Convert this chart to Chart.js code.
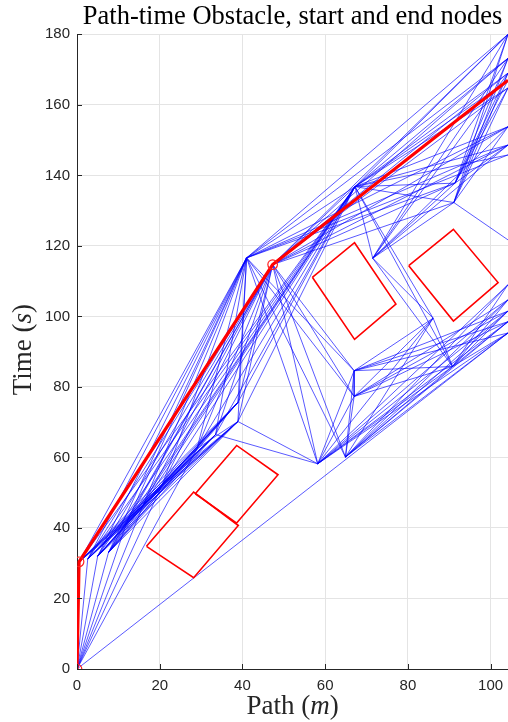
<!DOCTYPE html>
<html>
<head>
<meta charset="utf-8">
<title>Path-time Obstacle, start and end nodes</title>
<script src="https://cdn.jsdelivr.net/npm/chart.js@4.4.1/dist/chart.umd.min.js"></script>
<style>
  html, body { margin: 0; padding: 0; background: #ffffff; }
  canvas { display: block; }
</style>
</head>
<body>
<canvas id="chart" width="508" height="722"></canvas>
<script>
// Roadmap nodes in path-time space: s = path (m), t = time (s)
const nodeS = [0, 0.5, 2.6, 5.0, 7.6, 12.0, 20.5, 29.0, 38.9, 38.9,
               41.0, 47.3, 58.2, 64.9, 67.0, 67.0, 71.5, 67.2, 86.1, 90.8,
               91.1, 91.4, 104.2, 104.2, 104.2, 104.2, 104.2, 104.2, 104.2, 104.2,
               104.2, 104.2, 104.2, 104.2, 104.2, 104.2, 16.0, 33.5];
const nodeT = [0, 30.4, 31.2, 32.0, 33.0, 41.5, 52.0, 62.5, 70.2, 75.6,
               116.6, 114.7, 58.2, 60.1, 84.6, 77.3, 116.5, 136.8, 99.5, 85.8,
               132.3, 137.8, 180.0, 173.2, 169.0, 167.0, 164.8, 153.8, 148.6, 145.8,
               121.7, 109.0, 104.7, 101.5, 98.5, 95.3, 46.5, 66.5];

// Graph edges (pairs of node indices)
const edges = [
  [0,1],[0,2],[0,3],[0,4],[0,5],[0,6],[0,7],[0,36],[0,35],
  [1,5],[1,6],[1,7],[1,8],[1,9],[1,10],[1,11],[1,17],[1,36],[1,37],
  [2,5],[2,6],[2,7],[2,8],[2,9],[2,10],[2,11],[2,17],[2,36],[2,37],
  [3,5],[3,6],[3,7],[3,8],[3,9],[3,10],[3,11],[3,17],[3,36],[3,37],
  [4,5],[4,6],[4,7],[4,8],[4,9],[4,10],[4,11],[4,17],[4,36],[4,37],
  [5,8],[5,9],[5,10],[5,11],[5,17],[5,37],
  [6,8],[6,9],[6,10],[6,11],[6,17],[6,37],
  [7,8],[7,9],[7,10],[7,11],[7,17],
  [36,8],[36,9],[36,10],[36,11],[36,17],[36,37],
  [37,10],[37,11],[37,17],[37,12],
  [8,10],[8,11],[8,12],[8,17],[9,10],[9,11],[9,17],
  [10,12],[10,13],[10,14],[10,15],[10,17],[10,21],[10,22],[10,23],[10,27],[10,28],[10,29],
  [11,12],[11,13],[11,14],[11,15],[11,17],[11,20],[11,21],[11,22],[11,23],[11,24],[11,25],[11,26],[11,27],[11,28],
  [17,16],[17,18],[17,19],[17,20],[17,21],[17,22],[17,23],[17,24],[17,25],[17,26],[17,27],[17,28],[17,29],
  [16,18],[16,19],[16,20],[16,21],[16,22],[16,23],[16,24],[16,27],[16,28],
  [20,22],[20,23],[20,24],[20,26],[20,27],[20,30],[21,22],[21,23],[21,24],[21,25],[21,26],[21,28],
  [12,14],[12,15],[12,18],[12,19],[12,31],[12,32],[12,33],[12,34],[12,35],
  [13,14],[13,15],[13,18],[13,19],[13,31],[13,32],[13,33],[13,34],[13,35],
  [14,15],[14,18],[14,19],[15,18],[15,19],
  [19,31],[19,32],[19,33],[19,34],[19,35],[18,19],[14,33],[14,34],[15,32],[15,33],[15,34],[14,35]
];

// Chosen path through the roadmap
const pathNodes = [0, 1, 11, 25];

// Obstacle corners (left, top, right, bottom)
const obstacleS = [
  [16.8, 28.2, 39.0, 28.2],
  [28.6, 38.6, 48.6, 38.6],
  [56.9, 67.1, 77.1, 67.1],
  [80.2, 91.0, 101.8, 91.0]
];
const obstacleT = [
  [34.8, 50.2, 40.7, 25.9],
  [49.7, 63.4, 55.1, 41.4],
  [111.1, 120.9, 103.5, 93.5],
  [114.4, 124.7, 109.6, 98.7]
];

const xTicks = [0, 20, 40, 60, 80, 100];
const yTicks = [0, 20, 40, 60, 80, 100, 120, 140, 160, 180];
const xMax = 104.2;
const yMax = 180;

const pt = i => ({ x: nodeS[i], y: nodeT[i] });

const datasets = [];

// path on top
datasets.push({
  data: pathNodes.map(pt),
  showLine: true,
  borderColor: '#ff0000',
  borderWidth: 3.2,
  pointRadius: pathNodes.map((_, k) => (k < pathNodes.length - 1 ? 4.8 : 0)),
  pointBackgroundColor: 'rgba(0,0,0,0)',
  pointBorderColor: '#ff2020',
  pointBorderWidth: 1.2
});

obstacleS.forEach((ss, k) => {
  const tt = obstacleT[k];
  const poly = ss.map((s, j) => ({ x: s, y: tt[j] }));
  poly.push(poly[0]);
  datasets.push({
    data: poly,
    showLine: true,
    borderColor: '#ff0000',
    borderWidth: 1.6,
    pointRadius: 0
  });
});

edges.forEach(([a, b]) => {
  datasets.push({
    data: [pt(a), pt(b)],
    showLine: true,
    borderColor: 'rgba(0,0,255,0.65)',
    borderWidth: 1,
    pointRadius: 0
  });
});

// Axis titles with italic unit symbols, plus inward tick marks
function drawParts(ctx, parts, cx, baseline, size) {
  const fonts = parts.map(p => (p.italic ? 'italic ' : '') + size + 'px "Liberation Serif"');
  let total = 0;
  const widths = parts.map((p, i) => { ctx.font = fonts[i]; const w = ctx.measureText(p.text).width; total += w; return w; });
  let x = cx - total / 2;
  ctx.textAlign = 'left';
  ctx.textBaseline = 'alphabetic';
  parts.forEach((p, i) => { ctx.font = fonts[i]; ctx.fillText(p.text, x, baseline); x += widths[i]; });
}

const axesDecor = {
  id: 'axesDecor',
  afterDraw(chart) {
    const { ctx, chartArea, scales } = chart;
    const { left, right, top, bottom } = chartArea;
    ctx.save();
    ctx.strokeStyle = '#262626';
    ctx.lineWidth = 1;
    ctx.beginPath();
    xTicks.forEach(v => {
      const px = Math.round(scales.x.getPixelForValue(v)) + 0.5;
      ctx.moveTo(px, bottom); ctx.lineTo(px, bottom - 5);
    });
    yTicks.forEach(v => {
      const py = Math.round(scales.y.getPixelForValue(v)) + 0.5;
      ctx.moveTo(left, py); ctx.lineTo(left + 5, py);
    });
    ctx.stroke();

    ctx.fillStyle = '#262626';
    drawParts(ctx, [{ text: 'Path (' }, { text: 'm', italic: true }, { text: ')' }],
      (left + right) / 2, 714, 27);
    ctx.translate(31, (top + bottom) / 2 - 2);
    ctx.rotate(-Math.PI / 2);
    drawParts(ctx, [{ text: 'Time (' }, { text: 's', italic: true }, { text: ')' }],
      0, 0, 27);
    ctx.restore();
  }
};

new Chart(document.getElementById('chart'), {
  type: 'scatter',
  data: { datasets },
  plugins: [axesDecor],
  options: {
    responsive: false,
    animation: false,
    devicePixelRatio: 1,
    events: [],
    layout: { autoPadding: false, padding: { top: 0, right: 0, bottom: 0, left: 0 } },
    plugins: {
      legend: { display: false },
      tooltip: { enabled: false },
      title: {
        display: true,
        text: 'Path-time Obstacle, start and end nodes',
        fullSize: false,
        color: '#000000',
        font: { family: '"Liberation Serif"', size: 26.5, weight: 'normal', lineHeight: 1.1 },
        padding: { top: 2, bottom: 3.2 }
      }
    },
    scales: {
      x: {
        type: 'linear',
        min: 0,
        max: xMax,
        afterBuildTicks: s => { s.ticks = xTicks.map(v => ({ value: v })); },
        afterFit: s => { s.height = 53; s.paddingLeft = 0; s.paddingRight = 0; },
        grid: { color: '#e4e4e4', drawTicks: false, lineWidth: 1 },
        border: { display: true, color: '#262626', width: 1 },
        ticks: {
          color: '#262626',
          font: { family: '"Liberation Sans"', size: 15 },
          padding: 8,
          maxRotation: 0
        }
      },
      y: {
        type: 'linear',
        min: 0,
        max: yMax,
        afterBuildTicks: s => { s.ticks = yTicks.map(v => ({ value: v })); },
        afterFit: s => { s.width = 77; s.paddingTop = 0; s.paddingBottom = 0; },
        grid: { color: '#e4e4e4', drawTicks: false, lineWidth: 1 },
        border: { display: true, color: '#262626', width: 1 },
        ticks: {
          color: '#262626',
          font: { family: '"Liberation Sans"', size: 15 },
          padding: 7
        }
      }
    }
  }
});
</script>
</body>
</html>
